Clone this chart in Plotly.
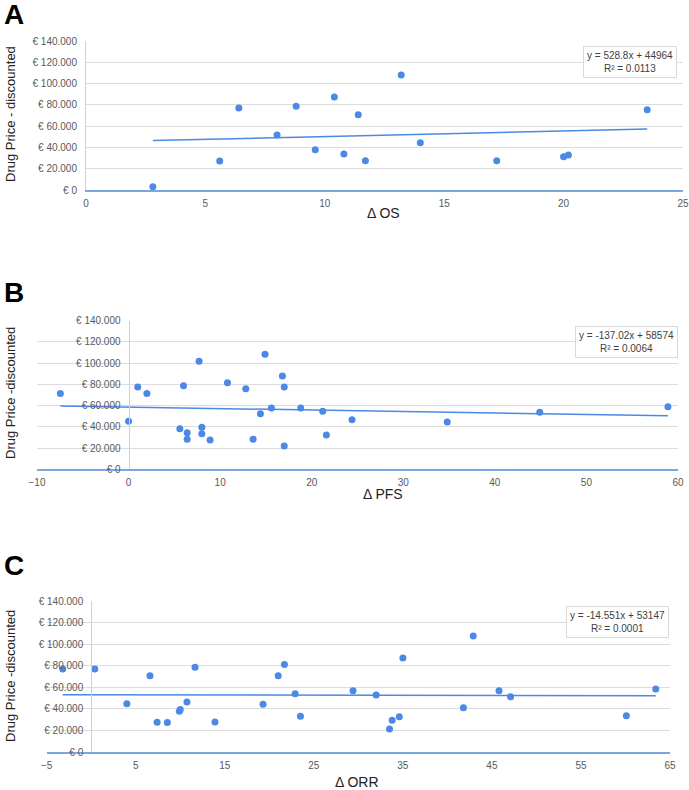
import plotly.graph_objects as go

# ---------------- data ----------------
os_x = [2.8, 5.6, 6.4, 8.0, 8.8, 9.6, 10.4, 10.8, 11.4, 11.7, 13.2, 14.0, 17.2, 20.0, 20.2, 23.5]
os_y = [3000, 27300, 77000, 51700, 78700, 37900, 87400, 33800, 70800, 27500, 108000, 44500, 27500, 31300, 32900, 75500]

pfs_x = [-7.45, 0.0, 1.0, 2.0, 5.6, 6.0, 6.4, 6.4, 7.7, 8.0, 8.0, 8.9, 10.8, 12.8, 13.6, 14.4,
         14.9, 15.6, 16.8, 17.0, 17.0, 18.8, 21.2, 21.6, 24.4, 34.8, 44.9, 58.9]
pfs_y = [71300, 45200, 77600, 71300, 38300, 78800, 34500, 28300, 101800, 39600, 33600, 27600,
         81600, 76000, 28300, 52400, 108400, 57800, 87900, 77600, 22000, 57800, 54600, 32300,
         46700, 44600, 53700, 59000]

orr_x = [-3.2, 0.4, 4.0, 6.6, 7.4, 8.55, 9.9, 10.0, 10.75, 11.66, 13.9, 19.3, 21.0, 21.7, 22.9, 23.5,
         29.4, 32.0, 33.5, 33.8, 34.6, 35.0, 41.8, 42.9, 45.8, 47.1, 60.1, 63.4]
orr_y = [77000, 77000, 44900, 70900, 27700, 27300, 37800, 39500, 46400, 78700, 27900, 44300, 70900,
         81200, 54200, 33100, 57000, 53000, 21400, 29400, 32800, 87400, 41200, 107800, 57000, 51400,
         33700, 58500]

# trendline equations (as printed on the chart)
os_slope, os_intercept = 528.8, 44964
pfs_slope, pfs_intercept = -137.02, 58574
orr_slope, orr_intercept = -14.551, 53147
eq_texts = ["y = 528.8x + 44964<br>R² = 0.0113",
            "y = -137.02x + 58574<br>R² = 0.0064",
            "y = -14.551x + 53147<br>R² = 0.0001"]

y_tickvals = [0, 20000, 40000, 60000, 80000, 100000, 120000, 140000]
y_ticktext = ["€ 0", "€ 20.000", "€ 40.000", "€ 60.000", "€ 80.000", "€ 100.000", "€ 120.000", "€ 140.000"]

os_ticks = [0, 5, 10, 15, 20, 25]
pfs_ticks = [-10, 0, 10, 20, 30, 40, 50, 60]
orr_ticks = [-5, 5, 15, 25, 35, 45, 55, 65]

x_titles = ["Δ OS", "Δ PFS", "Δ ORR"]
y_titles = ["Drug Price - discounted", "Drug Price -discounted", "Drug Price -discounted"]
letters = ["A", "B", "C"]

# ---------------- layout ----------------
W, H = 689, 790
def px(x): return x / W
def py(y): return 1 - y / H

panels = [
    dict(xs=os_x, ys=os_y, m=os_slope, b=os_intercept, xr=[0, 25], ticks=os_ticks,
         left=86, right=683, top=41, bottom=190),
    dict(xs=pfs_x, ys=pfs_y, m=pfs_slope, b=pfs_intercept, xr=[-10, 60], ticks=pfs_ticks,
         left=37, right=678, top=320.7, bottom=469.3),
    dict(xs=orr_x, ys=orr_y, m=orr_slope, b=orr_intercept, xr=[-5, 65], ticks=orr_ticks,
         left=46.7, right=670, top=601.3, bottom=752),
]
eq_boxes = [(629.5, 62), (626, 341.5), (617, 621.5)]
xtitle_pos = [(383, 213), (383, 494), (357, 782)]
ytitle_pos = [(10, 114), (10, 393), (10, 676)]
letter_pos = [(14, 15), (14, 292.5), (14, 565)]

BLUE = "#4a89e6"
TICKFONT = dict(family="Liberation Sans, Arial", size=10, color="#595959")

fig = go.Figure()
layout = dict(width=W, height=H, margin=dict(l=0, r=0, t=0, b=0, autoexpand=False),
              paper_bgcolor="white", plot_bgcolor="white", showlegend=False,
              font=dict(family="Liberation Sans, Arial"))
annotations = []

for i, p in enumerate(panels):
    n = "" if i == 0 else str(i + 1)
    xa, ya = "x" + n, "y" + n
    fig.add_trace(go.Scatter(x=p["xs"], y=p["ys"], mode="markers", xaxis=xa, yaxis=ya,
                             marker=dict(size=7, color=BLUE), hoverinfo="x+y"))
    x0, x1 = min(p["xs"]), max(p["xs"])
    fig.add_trace(go.Scatter(x=[x0, x1], y=[p["m"] * x0 + p["b"], p["m"] * x1 + p["b"]],
                             mode="lines", xaxis=xa, yaxis=ya,
                             line=dict(color=BLUE, width=1.5), hoverinfo="skip"))
    xdom = [px(p["left"]), px(p["right"])]
    ydom = [py(p["bottom"]), py(p["top"])]
    frac = (0 - p["xr"][0]) / (p["xr"][1] - p["xr"][0])
    ypos = xdom[0] + frac * (xdom[1] - xdom[0])
    layout["xaxis" + n] = dict(domain=xdom, range=p["xr"], anchor=ya, tickvals=p["ticks"],
                               showgrid=False, zeroline=False, showline=True,
                               linecolor="#7aa7e0", linewidth=1.5, ticks="",
                               tickfont=TICKFONT, ticklabelstandoff=3, fixedrange=True,
                               automargin=False)
    yax = dict(domain=ydom, range=[0, 140000], tickvals=y_tickvals, ticktext=y_ticktext,
               showgrid=True, gridcolor="#dcdcdc", gridwidth=1, zeroline=False,
               showline=True, linecolor="#d0d0d0", linewidth=1, ticks="",
               tickfont=TICKFONT, ticklabelstandoff=6, fixedrange=True, automargin=False)
    if frac > 0:
        yax.update(anchor="free", position=ypos)
    else:
        yax.update(anchor=xa)
    layout["yaxis" + n] = yax

    ex, ey = eq_boxes[i]
    annotations.append(dict(x=px(ex), y=py(ey), xref="paper", yref="paper", text=eq_texts[i],
                            xanchor="center", yanchor="middle",
                            showarrow=False, font=dict(size=10, color="#404040"),
                            bordercolor="#d9d9d9", borderwidth=1, borderpad=3,
                            bgcolor="white", align="center"))
    tx, ty = xtitle_pos[i]
    annotations.append(dict(x=px(tx), y=py(ty), xref="paper", yref="paper", text=x_titles[i],
                            xanchor="center", yanchor="middle",
                            showarrow=False, font=dict(size=14, color="#222222")))
    yx, yy = ytitle_pos[i]
    annotations.append(dict(x=px(yx), y=py(yy), xref="paper", yref="paper", text=y_titles[i],
                            xanchor="center", yanchor="middle",
                            showarrow=False, textangle=-90, font=dict(size=13, color="#222222")))
    lx, ly = letter_pos[i]
    annotations.append(dict(x=px(lx), y=py(ly), xref="paper", yref="paper",
                            xanchor="center", yanchor="middle",
                            text="<b>" + letters[i] + "</b>", showarrow=False,
                            font=dict(size=28, color="black", family="Liberation Sans, Arial")))

layout["annotations"] = annotations
fig.update_layout(**layout)
# remove the default 8px page margin so the figure fills the window exactly
fig.write_html("out.html", config={"displayModeBar": False},
               post_script="document.body.style.margin='0';document.body.style.overflow='hidden';")
